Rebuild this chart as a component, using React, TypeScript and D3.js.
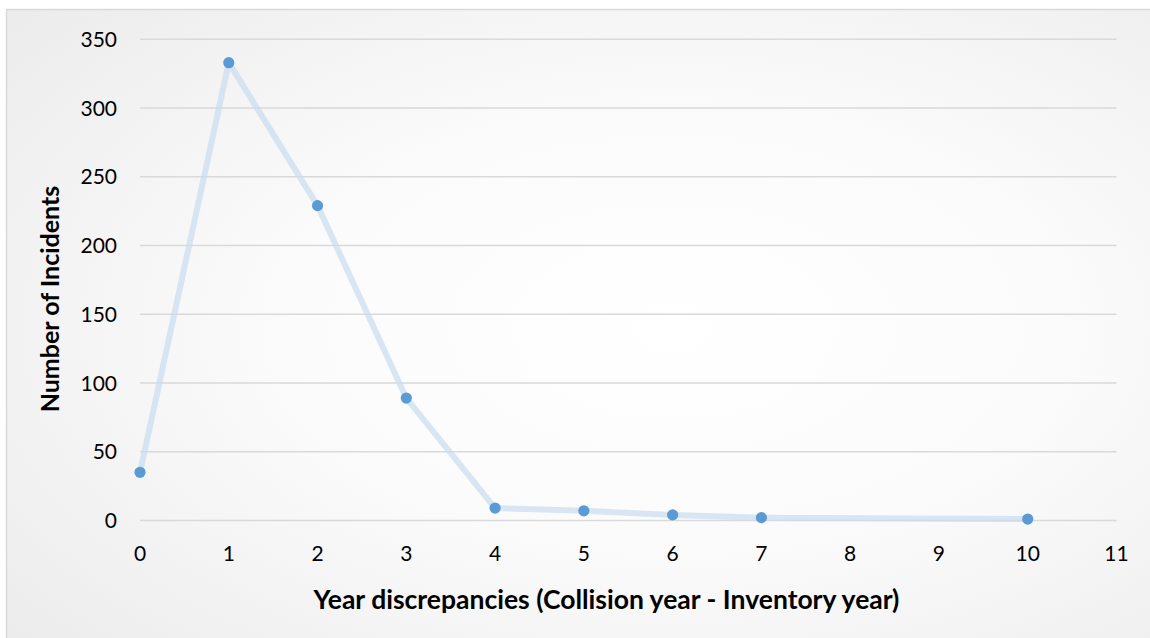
import React from "react";
import * as d3 from "d3";

const xValues = [0, 1, 2, 3, 4, 5, 6, 7, 10];
const incidents = [35, 333, 229, 89, 9, 7, 4, 2, 1];
const xTicks = [0, 1, 2, 3, 4, 5, 6, 7, 8, 9, 10, 11];
const yTicks = [0, 50, 100, 150, 200, 250, 300, 350];
const xTitle = "Year discrepancies (Collision year - Inventory year)";
const yTitle = "Number of Incidents";

const W = 1150;
const H = 638;
const FONT = "Lato, Carlito, Calibri, sans-serif";

export default function App() {
  const x = d3.scaleLinear().domain([0, 11]).range([140, 1116.5]);
  const y = d3.scaleLinear().domain([0, 350]).range([520.4, 39.3]);
  const pts = xValues.map((v, i) => [v, incidents[i]] as [number, number]);
  const line = d3
    .line<[number, number]>()
    .x((d) => x(d[0]))
    .y((d) => y(d[1]));

  return (
    <svg
      width={W}
      height={H}
      style={{ position: "absolute", left: 0, top: 0, display: "block" }}
    >
      <defs>
        <radialGradient id="bg" cx="58%" cy="50%" r="75%">
          <stop offset="0%" stopColor="#ffffff" />
          <stop offset="45%" stopColor="#fbfbfb" />
          <stop offset="100%" stopColor="#ececec" />
        </radialGradient>
      </defs>
      <rect x={0} y={0} width={W} height={H} fill="#ffffff" />
      <rect
        x={6.5}
        y={9.5}
        width={W}
        height={H}
        fill="url(#bg)"
        stroke="#d9d9d9"
        strokeWidth={1.5}
      />
      {yTicks.map((t) => (
        <g key={t}>
          <line
            x1={x(0)}
            x2={x(11)}
            y1={y(t)}
            y2={y(t)}
            stroke="#d9d9d9"
            strokeWidth={1.5}
          />
          <text
            x={117}
            y={y(t)}
            dy="0.36em"
            textAnchor="end"
            fontFamily={FONT}
            fontSize={21}
            fill="#000"
          >
            {t}
          </text>
        </g>
      ))}
      {xTicks.map((t) => (
        <text
          key={t}
          x={x(t)}
          y={560.5}
          textAnchor="middle"
          fontFamily={FONT}
          fontSize={21}
          fill="#000"
        >
          {t}
        </text>
      ))}
      <path
        d={line(pts) || ""}
        fill="none"
        stroke="#c9dbef"
        strokeOpacity={0.7}
        strokeWidth={6}
        strokeLinejoin="round"
        strokeLinecap="round"
      />
      {pts.map((p, i) => (
        <circle key={i} cx={x(p[0])} cy={y(p[1])} r={5.6} fill="#5b9bd5" />
      ))}
      <text
        x={(315 + 898) / 2}
        y={609}
        textAnchor="middle"
        fontFamily={FONT}
        fontSize={26.5}
        fontWeight="bold"
        fill="#000"
      >
        {xTitle}
      </text>
      <text
        transform="translate(59, 299) rotate(-90)"
        textAnchor="middle"
        fontFamily={FONT}
        fontSize={25}
        fontWeight="bold"
        fill="#000"
      >
        {yTitle}
      </text>
    </svg>
  );
}
